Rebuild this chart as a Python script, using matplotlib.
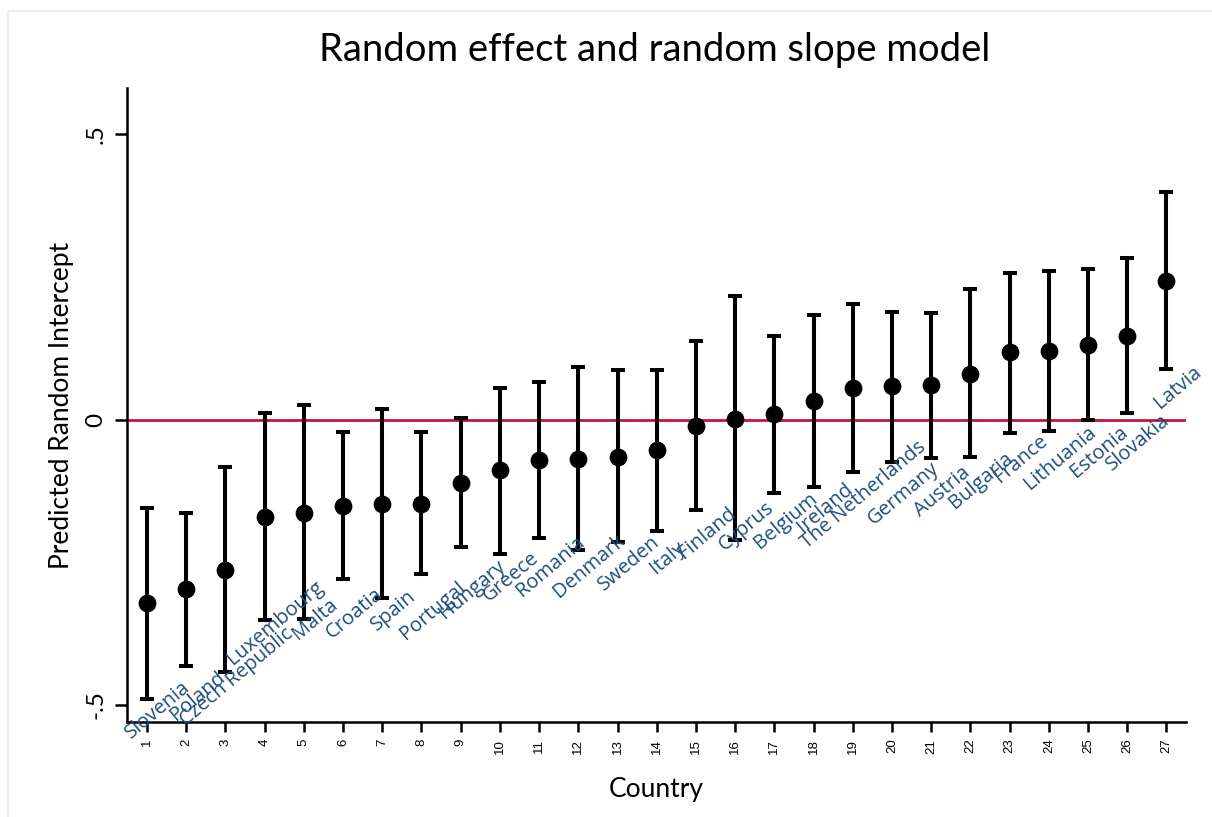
import matplotlib
matplotlib.use("Agg")
import matplotlib.pyplot as plt
from matplotlib.lines import Line2D

countries = ["Slovenia", "Poland", "Czech Republic", "Luxembourg", "Malta", "Croatia",
             "Spain", "Portugal", "Hungary", "Greece", "Romania", "Denmark", "Sweden",
             "Italy", "Finland", "Cyprus", "Belgium", "Ireland", "The Netherlands",
             "Germany", "Austria", "Bulgaria", "France", "Lithuania", "Estonia",
             "Slovakia", "Latvia"]
rank = list(range(1, 28))
estimate = [-0.322, -0.297, -0.263, -0.170, -0.163, -0.152, -0.148, -0.148, -0.111,
            -0.089, -0.071, -0.069, -0.065, -0.054, -0.012, 0.001, 0.010, 0.032,
            0.056, 0.058, 0.061, 0.080, 0.118, 0.120, 0.131, 0.147, 0.243]
upper = [-0.155, -0.163, -0.083, 0.011, 0.025, -0.022, 0.018, -0.022, 0.003,
         0.056, 0.065, 0.092, 0.086, 0.087, 0.138, 0.217, 0.147, 0.184,
         0.203, 0.189, 0.187, 0.228, 0.257, 0.260, 0.264, 0.283, 0.399]
lower = [-0.490, -0.431, -0.443, -0.351, -0.349, -0.280, -0.312, -0.271, -0.224,
         -0.235, -0.207, -0.229, -0.214, -0.195, -0.159, -0.211, -0.128, -0.118,
         -0.092, -0.074, -0.067, -0.065, -0.024, -0.020, -0.001, 0.012, 0.088]
yticks = [-0.5, 0, 0.5]
ytick_labels = ["-.5", "0", ".5"]

fig = plt.figure(figsize=(12.12, 8.17), dpi=100)
fig.patch.set_facecolor("white")

# faint frame lines of the original screenshot
fig.add_artist(Line2D([8 / 1212, 8 / 1212], [0, 1 - 11 / 817], transform=fig.transFigure,
                      color="#e8eef2", lw=1.5))
fig.add_artist(Line2D([8 / 1212, 1], [1 - 11 / 817, 1 - 11 / 817], transform=fig.transFigure,
                      color="#e8eef2", lw=1.5))

ax = fig.add_axes([127 / 1212, 1 - 722 / 817, (1185.5 - 127) / 1212, (722 - 88) / 817])
ax.set_xlim(0.49, 27.485)
ax.set_ylim(-0.530, 0.581)

ax.axhline(0, color="#c8143c", lw=2.0, zorder=1)

yerr = [[e - l for e, l in zip(estimate, lower)], [u - e for u, e in zip(upper, estimate)]]
ax.errorbar(rank, estimate, yerr=yerr, fmt="o", color="black", ecolor="black",
            elinewidth=2.9, capsize=5.2, capthick=2.9, markersize=11.8, zorder=3)

for xi, yi, name in zip(rank, estimate, countries):
    ax.annotate(name, xy=(xi, yi), xytext=(8, -77), textcoords="offset points",
                rotation=40, rotation_mode="anchor", ha="center", va="center",
                color="#1f4e79", fontsize=14.5, family="Open Sans", zorder=4)

for s in ["top", "right"]:
    ax.spines[s].set_visible(False)
for s in ["left", "bottom"]:
    ax.spines[s].set_linewidth(1.8)
    ax.spines[s].set_color("black")

ax.set_xticks(rank)
ax.set_xticklabels([str(r) for r in rank], rotation=90, fontsize=9.5,
                   family="Liberation Sans")
ax.set_yticks(yticks)
ax.set_yticklabels(ytick_labels, rotation=90, fontsize=17.5, family="Lato", va="center")
ax.tick_params(axis="x", length=7, width=1.8, pad=5)
ax.tick_params(axis="y", length=9, width=1.8, pad=6)

ax.set_ylabel("Predicted Random Intercept", fontsize=19, family="Lato", labelpad=8)
ax.set_xlabel("Country", fontsize=19, family="Lato", labelpad=17)

fig.text(655 / 1212, 1 - 50 / 817, "Random effect and random slope model",
         ha="center", va="center", fontsize=27.5, family="Lato")

fig.savefig("out.png", dpi=100, facecolor="white")
